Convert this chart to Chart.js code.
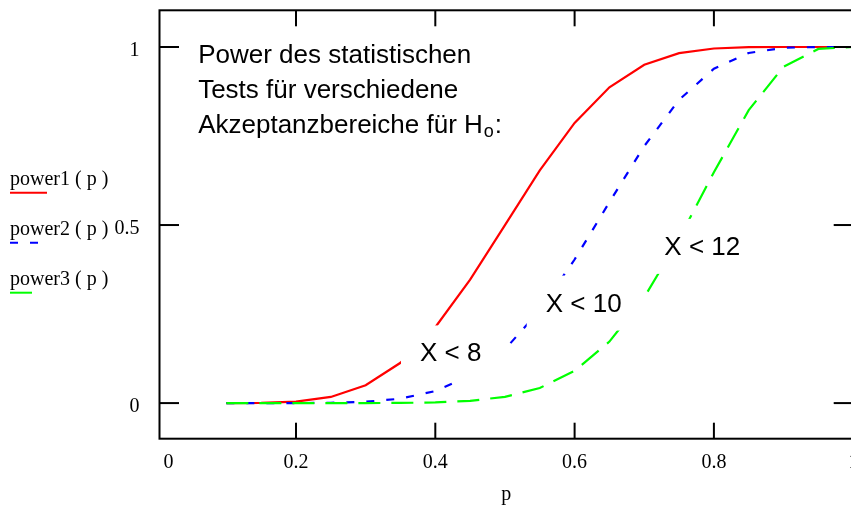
<!DOCTYPE html>
<html><head><meta charset="utf-8">
<script src="https://cdn.jsdelivr.net/npm/chart.js@4/dist/chart.umd.min.js"></script>
<style>
html,body{margin:0;padding:0;background:#fff;overflow:hidden;width:851px;height:508px;}
#wrap{position:relative;width:870px;height:508px;}
canvas{display:block;}
</style></head><body>
<div id="wrap"><canvas id="c" width="870" height="508"></canvas></div>
<script>
// ---- data ----
const pValues = [0.10,0.15,0.20,0.25,0.30,0.35,0.40,0.45,0.50,0.55,0.60,0.65,0.70,0.75,0.80,0.85,0.90,0.95,1.00];
const power1 = [0.0000,0.0006,0.0042,0.0173,0.0500,0.1132,0.2131,0.3465,0.5000,0.6535,0.7869,0.8868,0.9500,0.9827,0.9958,0.9994,1.0000,1.0000,1.0000];
const power2 = [0.0000,0.0000,0.0001,0.0008,0.0037,0.0124,0.0338,0.0769,0.1509,0.2608,0.4032,0.5643,0.7216,0.8516,0.9389,0.9832,0.9978,0.9999,1.0000];
const power3 = [0.0000,0.0000,0.0000,0.0000,0.0001,0.0005,0.0019,0.0063,0.0176,0.0424,0.0905,0.1727,0.2969,0.4613,0.6482,0.8227,0.9444,0.9945,1.0000];
const seriesNames = ['power1 ( p )','power2 ( p )','power3 ( p )'];
const xTickValues = [0,0.2,0.4,0.6,0.8,1];
const xTickLabels = ['0','0.2','0.4','0.6','0.8','1'];
const yTickValues = [0,0.5,1];
const yTickLabels = ['0','0.5','1'];
const xAxisTitle = 'p';
const titleLines = ['Power des statistischen','Tests für verschiedene','Akzeptanzbereiche für H'];
const titleSub = 'o';
const titleEnd = ':';
const regionLabels = ['X < 8','X < 10','X < 12'];

// ---- layout / style config ----
const regionAnchors = [[0.378,0.117],[0.5585,0.257],[0.7288,0.4162]];
const titleAnchor = {x:0.0595, y:[0.956,0.856,0.758]};
const colors = ['#ff0000','#0000ff','#00ff00'];
const dashes = [[],[8,12],[22,11]];
const legendLayout = {x:10, baselines:[185,235,285], lineOffset:7.7, lineLen:[37,30,22]};
const serif = '"Liberation Serif", "Times New Roman", serif';
const sans = '"Liberation Sans", Arial, sans-serif';

const series = [power1, power2, power3];
const datasets = series.map((vals,i)=>({
  label: seriesNames[i],
  data: pValues.map((p,j)=>({x:p, y:vals[j]})),
  borderColor: colors[i],
  borderWidth: 2.2,
  borderDash: dashes[i],
  pointRadius: 0,
  tension: 0,
  fill: false,
  order: 2 - i
}));

function line(ctx,x1,y1,x2,y2){ctx.beginPath();ctx.moveTo(x1,y1);ctx.lineTo(x2,y2);ctx.stroke();}

const decor = {
  id:'decor',
  afterDatasetsDraw(chart){
    const ctx = chart.ctx, a = chart.chartArea, xs = chart.scales.x, ys = chart.scales.y;
    ctx.save();
    // region labels with white boxes
    ctx.font = '26px ' + sans;
    ctx.textBaseline = 'alphabetic';
    ctx.textAlign = 'left';
    regionLabels.forEach((t,i)=>{
      const px = xs.getPixelForValue(regionAnchors[i][0]);
      const py = ys.getPixelForValue(regionAnchors[i][1]);
      const w = ctx.measureText(t).width;
      ctx.fillStyle = '#fff';
      ctx.fillRect(px-19, py-36, w+41, 55);
    });
    regionLabels.forEach((t,i)=>{
      const px = xs.getPixelForValue(regionAnchors[i][0]);
      const py = ys.getPixelForValue(regionAnchors[i][1]);
      ctx.fillStyle = '#000';
      ctx.fillText(t, px, py);
    });
    // title block
    const tx = xs.getPixelForValue(titleAnchor.x);
    titleLines.forEach((t,i)=>{
      const ty = ys.getPixelForValue(titleAnchor.y[i]);
      ctx.font = '26px ' + sans;
      ctx.fillStyle = '#000';
      ctx.fillText(t, tx, ty);
      if (i === titleLines.length-1){
        let w = ctx.measureText(t).width;
        ctx.font = '18px ' + sans;
        ctx.fillText(titleSub, tx + w + 1, ty + 4);
        const w2 = ctx.measureText(titleSub).width;
        ctx.font = '26px ' + sans;
        ctx.fillText(titleEnd, tx + w + 1 + w2 + 1, ty);
      }
    });
    // frame
    ctx.strokeStyle = '#000';
    ctx.lineWidth = 2;
    ctx.setLineDash([]);
    ctx.strokeRect(a.left, a.top, a.right-a.left, a.bottom-a.top);
    // inward ticks
    xs.ticks.forEach(t=>{
      const x = xs.getPixelForValue(t.value);
      if (x <= a.left+1 || x >= a.right-1) return;
      line(ctx, x, a.bottom, x, a.bottom-16);
      line(ctx, x, a.top, x, a.top+16);
    });
    ys.ticks.forEach(t=>{
      const y = ys.getPixelForValue(t.value);
      line(ctx, a.left, y, a.left+19.5, y);
      line(ctx, a.right, y, a.right-19.5, y);
    });
    // x tick labels
    ctx.font = '20px ' + serif;
    ctx.fillStyle = '#000';
    xTickValues.forEach((v,i)=>{
      let px = xs.getPixelForValue(v);
      if (px < a.left) { ctx.textAlign = 'left'; px = a.left + 4; }
      else ctx.textAlign = 'center';
      ctx.fillText(xTickLabels[i], px, a.bottom + 29.3);
    });
    // legend
    ctx.textAlign = 'left';
    chart.data.datasets.forEach((ds,i)=>{
      const bl = legendLayout.baselines[i];
      ctx.font = '20px ' + serif;
      ctx.fillStyle = '#000';
      ctx.fillText(ds.label, legendLayout.x, bl);
      ctx.strokeStyle = ds.borderColor;
      ctx.lineWidth = 2;
      ctx.setLineDash(ds.borderDash || []);
      line(ctx, legendLayout.x, bl+legendLayout.lineOffset, legendLayout.x+legendLayout.lineLen[i], bl+legendLayout.lineOffset);
    });
    ctx.restore();
  }
};

new Chart(document.getElementById('c'), {
  type:'line',
  data:{datasets},
  options:{
    responsive:false,
    animation:false,
    devicePixelRatio:1,
    layout:{padding:{left:0,right:16.8,top:10.3,bottom:0}},
    plugins:{legend:{display:false}, tooltip:{enabled:false}},
    scales:{
      x:{
        type:'linear', min:0.004, max:1,
        grid:{display:false}, border:{display:false},
        ticks:{display:false},
        title:{display:true, text:xAxisTitle, color:'#000', font:{family:serif, size:20}, padding:{top:0,bottom:1}},
        afterBuildTicks(s){ s.ticks = xTickValues.map(v=>({value:v})); },
        afterFit(s){ s.height = 69.3; s.paddingLeft = 0; s.paddingRight = 0; }
      },
      y:{
        type:'linear', min:-0.1, max:1.103,
        grid:{display:false}, border:{display:false},
        ticks:{color:'#000', font:{family:serif, size:20}, padding:12, labelOffset:4,
          callback(v){ const i = yTickValues.indexOf(v); return i >= 0 ? yTickLabels[i] : ''; }},
        afterBuildTicks(s){ s.ticks = yTickValues.map(v=>({value:v})); },
        afterFit(s){ s.width = 159.5; s.paddingTop = 0; s.paddingBottom = 0; }
      }
    }
  },
  plugins:[decor]
});
</script>
</body></html>
